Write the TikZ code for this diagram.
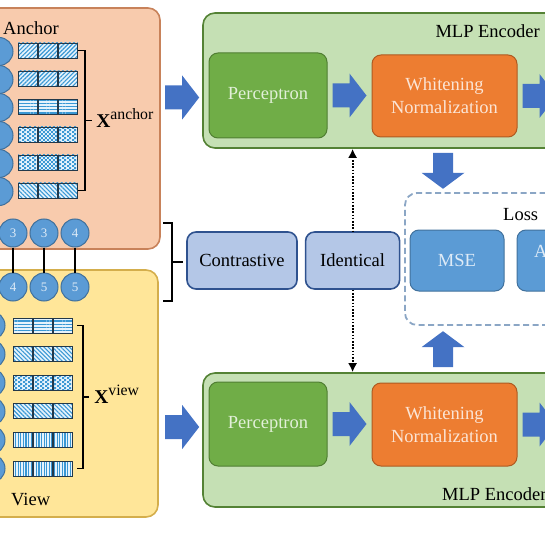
\documentclass[tikz,border=0pt]{standalone}
\usepackage{fontspec}
\setmainfont{Liberation Serif}
\usetikzlibrary{positioning,calc,patterns,patterns.meta,arrows.meta}

\definecolor{anchorfill}{HTML}{F8CBAD}
\definecolor{anchorline}{HTML}{C8825A}
\definecolor{viewfill}{HTML}{FFE699}
\definecolor{viewline}{HTML}{D4AE4C}
\definecolor{mlpfill}{HTML}{C5E0B4}
\definecolor{mlpline}{HTML}{548235}
\definecolor{percfill}{HTML}{70AD47}
\definecolor{percline}{HTML}{507E32}
\definecolor{percfont}{HTML}{E2F0D9}
\definecolor{wnfill}{HTML}{ED7D31}
\definecolor{wnline}{HTML}{AE5A21}
\definecolor{wnfont}{HTML}{FBE5D6}
\definecolor{simfill}{HTML}{B4C7E7}
\definecolor{simline}{HTML}{2F528F}
\definecolor{lossfill}{HTML}{5B9BD5}
\definecolor{lossline}{HTML}{41719C}
\definecolor{lossfont}{HTML}{DEEBF7}
\definecolor{lossdash}{HTML}{8BA6C5}
\definecolor{arrowblue}{HTML}{4472C4}
\definecolor{cellbg}{HTML}{E6F3FC}
\definecolor{cellink}{HTML}{3A98D4}
\definecolor{cellborder}{HTML}{22384A}

% small checker tiles for the cells
\pgfdeclarepattern{
    name=finecheck,
    type=uncolored,
    bottom left={\pgfpoint{0pt}{0pt}},
    top right={\pgfpoint{4.4pt}{4.4pt}},
    tile size={\pgfpoint{4.4pt}{4.4pt}},
    code={
        \pgfpathrectangle{\pgfpointorigin}{\pgfpoint{2.2pt}{2.2pt}}
        \pgfpathrectangle{\pgfpoint{2.2pt}{2.2pt}}{\pgfpoint{2.2pt}{2.2pt}}
        \pgfusepath{fill}
    }
}

\tikzset{
    group/.style={rectangle,rounded corners=12pt,line width=1.6pt,inner sep=0pt},
    block/.style={rectangle,rounded corners=9pt,line width=1pt,inner sep=0pt,align=center,font=\fontsize{18.5}{23}\selectfont},
    circ/.style={circle,minimum size=28pt,inner sep=0pt,fill=lossfill,draw=lossline,line width=1pt,text=lossfont,font=\fontsize{13}{13}\selectfont},
    cell/.style={rectangle,minimum width=19.5pt,minimum height=15pt,inner sep=0pt,draw=cellborder,line width=0.7pt,preaction={fill=cellbg},pattern color=cellink},
    pat ne/.style={pattern={Lines[angle=45,distance=3pt,line width=1.1pt]}},
    pat nw/.style={pattern={Lines[angle=-45,distance=3pt,line width=1.1pt]}},
    pat hz/.style={pattern={Lines[angle=0,distance=3.2pt,line width=1.3pt]}},
    pat vt/.style={pattern={Lines[angle=90,distance=2.6pt,line width=1.1pt]}},
    pat ck/.style={pattern=finecheck},
    brace/.style={line width=1.8pt,line join=miter},
    label/.style={inner sep=0pt,font=\fontsize{18.5}{23}\selectfont},
    dotarrow/.style={line width=2pt,dash pattern=on 1.6pt off 1.6pt},
    harrow/.pic={\fill[arrowblue] (0,-12) -- (17,-12) -- (17,-22) -- (34,0) -- (17,22) -- (17,12) -- (0,12) -- cycle;},
    varrow/.pic={\fill[arrowblue] (0,-10) -- (20,-10) -- (20,-21.5) -- (36,0) -- (20,21.5) -- (20,10) -- (0,10) -- cycle;}
}

\begin{document}
\begin{tikzpicture}[x=1pt,y=-1pt]
    \useasboundingbox (0,0) rectangle (545,545);
    \clip (0,0) rectangle (545,545);

    % anchor and view groups
    \node[group,fill=anchorfill,draw=anchorline,minimum width=180pt,minimum height=241pt] (anc) at (70,128.5) {};
    \node[group,fill=viewfill,draw=viewline,minimum width=178pt,minimum height=247pt] (vw) at (69,393.5) {};
    \node[label,anchor=base west] (anclbl) at (3,35) {Anchor};
    \node[label,anchor=base west] (vwlbl) at (11,505) {View};

    \foreach \p [count=\i] in {ne,ne,hz,ck,ck,nw}{%
        \node[circ] (AC-\i) at (-1,{51.5+28*(\i-1)}) {};
        \foreach \j in {1,2,3}
            \node[cell,pat \p] (A-\i-\j) at ({8+20*\j},{50.5+28*(\i-1)}) {};
    }
    \foreach \p [count=\i] in {hz,nw,ck,nw,vt,vt}{%
        \node[circ] (VC-\i) at (-9,{325.5+28.6*(\i-1)}) {};
        \foreach \j in {1,2,3}
            \node[cell,pat \p] (V-\i-\j) at ({3+20*\j},{325.5+28.6*(\i-1)}) {};
    }

    % braces
    \draw[brace] (A-1-3.east) -- ++(7,0) coordinate (BA) |- (A-6-3.east);
    \draw[brace] ($(BA)!0.5!(BA |- A-6-3.east)$) -- ++(7,0) coordinate (BAT);
    \draw[brace] ([xshift=4pt]V-1-3.east) -- ++(6,0) coordinate (BV) |- ([xshift=4pt]V-6-3.east);
    \draw[brace] ($(BV)!0.5!(BV |- V-6-3.east)$) -- ++(6,0) coordinate (BVT);
    \node[inner sep=0pt,anchor=base west] (XA) at ($(BAT)+(4,7)$) {\fontsize{19.5}{20}\selectfont\textbf{X}\raisebox{7.5pt}{\fontsize{15.8}{16}\selectfont anchor}};
    \node[inner sep=0pt,anchor=base west] (XV) at ($(BVT)+(5,6)$) {\fontsize{19.5}{20}\selectfont\textbf{X}\raisebox{7.5pt}{\fontsize{15.8}{16}\selectfont view}};

    % paired samples
    \foreach \t/\b [count=\x] in {3/4,3/5,4/5}{%
        \node[circ] (P-\x) at ({13+31*(\x-1)},233) {\t};
        \node[circ] (Q-\x) at ({13+31*(\x-1)},287) {\b};
        \draw[line width=1.8pt] (P-\x) -- (Q-\x);
    }
    \draw[brace] (163,223) -- (172,223) coordinate (BP) |- (163,301);
    \draw[brace] ($(BP)!0.5!(BP |- 0,301)$) -- ++(11,0) coordinate (BPT);

    % similarity
    \node[block,fill=simfill,draw=simline,line width=1.6pt,minimum width=110pt,minimum height=57pt] (contr) at (242,260.5) {Contrastive};
    \node[block,fill=simfill,draw=simline,line width=1.6pt,minimum width=94pt,minimum height=57pt,right=7pt of contr] (ident) {Identical};

    % encoders
    \node[group,fill=mlpfill,draw=mlpline,minimum width=400pt,minimum height=135pt] (mlp1) at (403,80.5) {};
    \node[group,fill=mlpfill,draw=mlpline,minimum width=400pt,minimum height=134pt] (mlp2) at (403,440) {};
    \node[label,anchor=base east] (mlp1lbl) at (540,38) {MLP Encoder};
    \node[label,anchor=base west] (mlp2lbl) at (442,500) {MLP Encoder};
    \node[block,fill=percfill,draw=percline,text=percfont,minimum width=118pt,minimum height=85pt] (perc1) at (268,95.5) {Perceptron};
    \node[block,fill=wnfill,draw=wnline,text=wnfont,minimum width=145pt,minimum height=82pt] (wn1) at (444.5,96) {Whitening\\Normalization};
    \node[block,fill=percfill,draw=percline,text=percfont,minimum width=118pt,minimum height=84pt] (perc2) at (268,424) {Perceptron};
    \node[block,fill=wnfill,draw=wnline,text=wnfont,minimum width=145pt,minimum height=83pt] (wn2) at (444.5,424.5) {Whitening\\Normalization};

    \pic at ($(mlp1.west |- perc1.center)+(-37,2)$) {harrow};
    \pic at ([xshift=5pt]perc1.east) {harrow};
    \pic at ([xshift=5pt]wn1.east) {harrow};
    \pic at ($(mlp2.west |- perc2.center)+(-37,3)$) {harrow};
    \pic at ([xshift=5pt]perc2.east) {harrow};
    \pic at ([xshift=5pt]wn2.east) {harrow};
    \pic[rotate=-90] at ($(wn1.center |- mlp1.south)+(-1.5,4)$) {varrow};
    \pic[rotate=90] at ($(wn2.center |- mlp2.north)+(-1.5,-5)$) {varrow};

    \draw[dotarrow,{Latex[length=9pt,width=9pt]}-] (mlp1.south -| ident.north) -- (ident.north);
    \draw[dotarrow,-{Latex[length=9pt,width=9pt]}] (ident.south) -- (mlp2.north -| ident.south);

    % loss
    \node[rectangle,rounded corners=12pt,draw=lossdash,dash pattern=on 6pt off 3.5pt,line width=1.8pt,minimum width=200pt,minimum height=132pt] (loss) at (505,259) {};
    \node[label,anchor=base west] (losslbl) at (503,220) {Loss};
    \node[block,fill=lossfill,draw=lossline,text=lossfont,minimum width=94pt,minimum height=61pt] (mse) at (457,260.5) {MSE};
    \node[block,fill=lossfill,draw=lossline,text=lossfont,minimum width=94pt,minimum height=61pt,right=12pt of mse] (avg) {};
    \node[label,text=lossfont,anchor=base west] (avglbl) at (534,257) {A};
\end{tikzpicture}
\end{document}
